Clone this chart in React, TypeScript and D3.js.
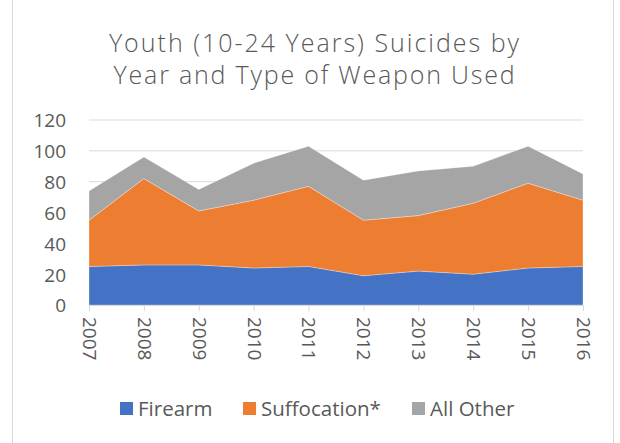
import React, { useEffect, useRef } from 'react';
import * as d3 from 'd3';

const years = ['2007', '2008', '2009', '2010', '2011', '2012', '2013', '2014', '2015', '2016'];
const firearm = [25, 26, 26, 24, 25, 19, 22, 20, 24, 25];
const suffocation = [30, 56, 35, 44, 52, 36, 36, 46, 55, 43];
const allOther = [19, 14, 14, 24, 26, 26, 29, 24, 24, 17];
const yTicks = [0, 20, 40, 60, 80, 100, 120];
const seriesNames = ['Firearm', 'Suffocation*', 'All Other'];
const seriesColors = ['#4472C4', '#ED7D31', '#A5A5A5'];

const App: React.FC = () => {
  const svgRef = useRef<SVGSVGElement>(null);

  useEffect(() => {
    if (!svgRef.current) return;
    const svg = d3.select(svgRef.current);
    svg.selectAll('*').remove();

    const font = "'Open Sans', 'Noto Sans', sans-serif";
    const textColor = '#595959';

    // chart area border
    svg.append('rect')
      .attr('x', 12.5).attr('y', -2)
      .attr('width', 601).attr('height', 447)
      .attr('fill', 'white')
      .attr('stroke', '#d9d9d9');

    // title, two lines
    const titleLines = ['Youth (10-24 Years) Suicides by', 'Year and Type of Weapon Used'];
    svg.append('g')
      .selectAll('text')
      .data(titleLines)
      .enter()
      .append('text')
      .attr('x', 315)
      .attr('y', (_, i) => 52 + i * 32)
      .attr('text-anchor', 'middle')
      .style('font-family', font)
      .style('font-weight', 300)
      .style('font-size', '25px')
      .style('letter-spacing', (_, i) => (i === 0 ? '2px' : '1.8px'))
      .style('fill', textColor)
      .text(d => d);

    const x = d3.scalePoint<string>().domain(years).range([89, 583]);
    const y = d3.scaleLinear().domain([0, 120]).range([305, 120]);

    // gridlines
    svg.append('g')
      .selectAll('line')
      .data(yTicks.filter(t => t > 0))
      .enter()
      .append('line')
      .attr('x1', 89).attr('x2', 583)
      .attr('y1', d => y(d)).attr('y2', d => y(d))
      .attr('stroke', '#d9d9d9')
      .attr('stroke-width', 1);

    // stacked areas
    const rows = years.map((yr, i) => ({
      year: yr,
      Firearm: firearm[i],
      'Suffocation*': suffocation[i],
      'All Other': allOther[i],
    }));
    const layers = d3.stack<any>().keys(seriesNames)(rows);

    const area = d3.area<any>()
      .x(d => x(d.data.year) as number)
      .y0(d => y(d[0]))
      .y1(d => y(d[1]));

    svg.append('g')
      .selectAll('path')
      .data(layers)
      .enter()
      .append('path')
      .attr('d', area)
      .attr('fill', (_, i) => seriesColors[i])
      .attr('stroke', 'white')
      .attr('stroke-opacity', 0.5)
      .attr('stroke-width', 0.6);

    // x axis
    const xAxis = svg.append('g')
      .attr('transform', 'translate(0,305)')
      .call(d3.axisBottom(x).tickSize(6));
    xAxis.select('.domain').attr('stroke', '#d9d9d9').attr('d', 'M89,0.5H583');
    xAxis.selectAll('.tick line').attr('stroke', '#d9d9d9');
    xAxis.selectAll('.tick text')
      .attr('transform', 'rotate(90)')
      .attr('x', 12)
      .attr('y', 0)
      .attr('dy', '0.35em')
      .attr('text-anchor', 'start')
      .style('font-family', font)
      .style('font-size', '19px')
      .style('fill', textColor);

    // y axis
    const yAxis = svg.append('g')
      .attr('transform', 'translate(66,0)')
      .call(d3.axisLeft(y).tickValues(yTicks).tickSize(0).tickPadding(0));
    yAxis.select('.domain').remove();
    yAxis.selectAll('.tick text')
      .attr('dy', '0.36em')
      .style('font-family', font)
      .style('font-size', '19px')
      .style('fill', textColor);

    // legend
    const legendX = [120, 243, 412];
    const legend = svg.append('g');
    seriesNames.forEach((name, i) => {
      legend.append('rect')
        .attr('x', legendX[i]).attr('y', 402)
        .attr('width', 13).attr('height', 13)
        .attr('fill', seriesColors[i]);
      legend.append('text')
        .attr('x', legendX[i] + 18).attr('y', 416)
        .style('font-family', font)
        .style('font-size', '20.5px')
        .style('fill', textColor)
        .text(name);
    });
  }, []);

  return (
    <svg
      ref={svgRef}
      width={620}
      height={443}
      viewBox="0 0 620 443"
      style={{ position: 'absolute', left: 0, top: 0, background: 'white' }}
    />
  );
};

export default App;
